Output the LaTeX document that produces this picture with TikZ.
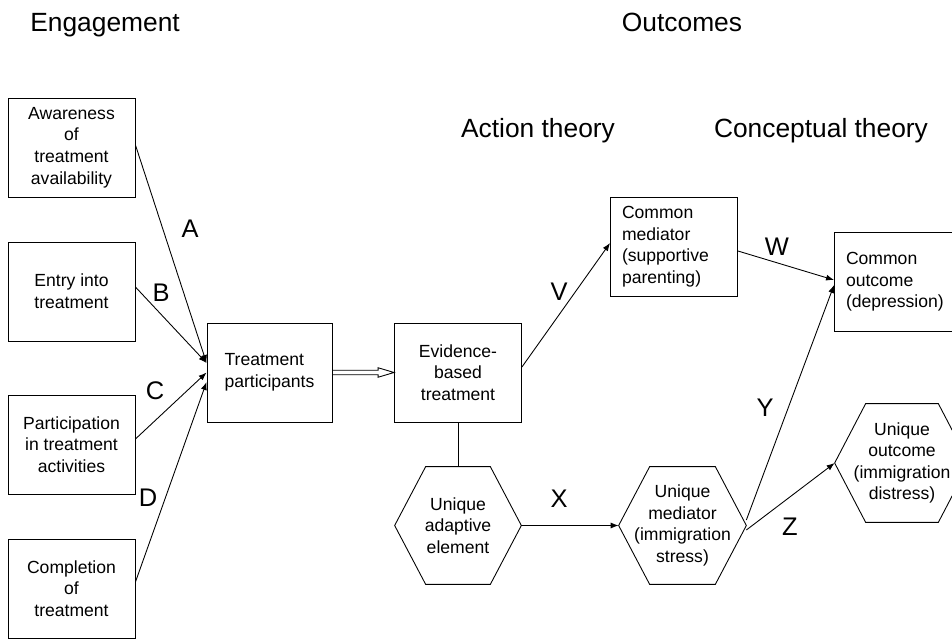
\documentclass[tikz,border=0pt]{standalone}
\usepackage{fontspec}
\setmainfont{Liberation Sans}
\usepackage{tikz}
\usetikzlibrary{arrows.meta}

\newcommand{\boxfont}{\fontsize{10}{12.3}\selectfont}
\newcommand{\titlefont}{\fontsize{15}{18}\selectfont}
\newcommand{\pathfont}{\fontsize{14.5}{17}\selectfont}
\newcommand{\hexline}[1]{\draw [line width=0.5pt] (#1.west) -- ([xshift=6.2mm]#1.north west) -- ([xshift=-6.2mm]#1.north east) -- (#1.east) -- ([xshift=-6.2mm]#1.south east) -- ([xshift=6.2mm]#1.south west) -- cycle;}

\tikzset{
  box/.style={draw, line width=0.5pt, minimum width=25.4mm, minimum height=19.8mm, inner sep=0pt, font=\boxfont, align=center},
  hexa/.style={minimum width=25.2mm, minimum height=23.4mm, inner sep=0pt, font=\boxfont, align=center},
  path label/.style={inner sep=0pt, font=\pathfont},
  title/.style={inner sep=0pt, font=\titlefont, anchor=base},
  arr/.style={line width=0.5pt, -{Latex[length=1.6mm,width=1.2mm]}}
}

\begin{document}
\begin{tikzpicture}[x=0.2mm, y=-0.2mm]
      \useasboundingbox (0,0) rectangle (952,639);
      \node [title, anchor=base west] (eng) at (30,32) {Engagement};
      \node [title] (out) at (682,32) {Outcomes};
      \node [title] (act) at (538,138) {Action theory};
      \node [title] (con) at (821,138) {Conceptual theory};

      \node [box] (aw) at (71.5,147.5) {Awareness\\of\\treatment\\availability};
      \node [box, align=left] (en) at (71.5,291.5) {Entry into\\treatment};
      \node [box] (pa) at (71.5,444.5) {Participation\\in treatment\\activities};
      \node [box] (cp) at (71.5,588.5) {Completion\\of\\treatment};
      \node [box, align=left, minimum width=25mm] (tp) at (269.5,372.5) {Treatment\\participants};
      \node [box] (eb) at (458,372.5) {Evidence-\\based\\treatment};
      \node [box, text width=20.8mm, align=left] (cm) at (674,246.5) {Common\\mediator\\(supportive\\parenting)};
      \node [box, text width=20.8mm, align=left] (co) at (898,282) {Common\\outcome\\(depression)};

      \node [hexa] (ua) at (458,525.5) {Unique\\adaptive\\element};
      \node [hexa, minimum width=25.4mm] (um) at (682.5,525.5) {Unique\\mediator\\(immigration\\stress)};
      \node [hexa, minimum width=26.8mm, minimum height=23.6mm] (uo) at (902,463) {Unique\\outcome\\(immigration\\distress)};
      \hexline{ua}
      \hexline{um}
      \hexline{uo}

      \draw [arr] ([yshift=0.5mm]aw.east) -- ([yshift=1.9mm]tp.west);
      \draw [arr] ([yshift=0.9mm]en.east) -- ([yshift=1.9mm]tp.west);
      \draw [arr] ([yshift=1.1mm]pa.east) -- (tp.west);
      \draw [arr] ([yshift=1.3mm]cp.east) -- ([yshift=-1.9mm]tp.west);
      \draw [line width=0.5pt] ([yshift=0.45mm]tp.east) -- ([xshift=-3.2mm,yshift=0.45mm]eb.west) -- ([xshift=-3.2mm,yshift=0.95mm]eb.west) -- (eb.west) -- ([xshift=-3.2mm,yshift=-0.95mm]eb.west) -- ([xshift=-3.2mm,yshift=-0.45mm]eb.west) -- ([yshift=-0.45mm]tp.east);
      \draw [arr] ([yshift=1.1mm]eb.east) -- ([yshift=0.7mm]cm.west);
      \draw [arr] ([yshift=-0.9mm]cm.east) -- ([yshift=0.4mm]co.west);
      \draw [line width=0.5pt] (eb.south) -- (ua.north);
      \draw [arr] (ua.east) -- (um.west);
      \draw [arr] ([yshift=1.1mm]um.east) -- ([yshift=-0.6mm]co.west);
      \draw [arr] ([yshift=-0.9mm]um.east) -- (uo.west);

      \node [path label] (la) at (190,229) {A};
      \node [path label] (lb) at (161,293) {B};
      \node [path label] (lc) at (155,391) {C};
      \node [path label] (ld) at (148,498) {D};
      \node [path label] (lv) at (559,292) {V};
      \node [path label] (lw) at (777,247) {W};
      \node [path label] (lx) at (559,499) {X};
      \node [path label] (ly) at (765,408) {Y};
      \node [path label] (lz) at (790,527) {Z};
    \end{tikzpicture}
\end{document}
